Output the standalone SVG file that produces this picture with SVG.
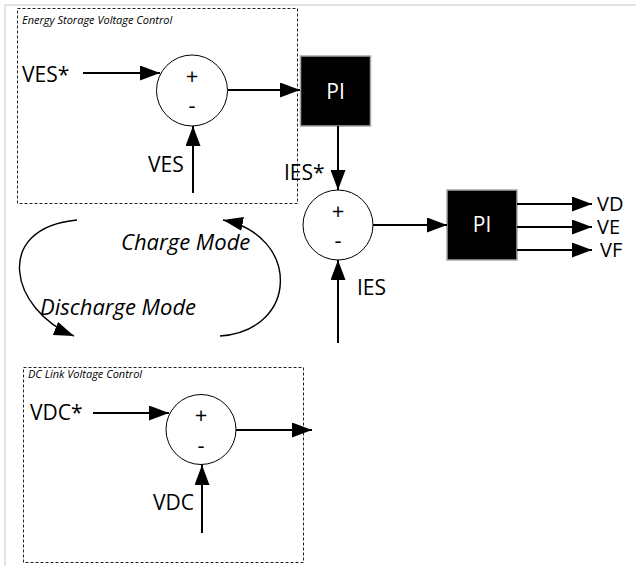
<svg xmlns="http://www.w3.org/2000/svg" width="636" height="566" viewBox="0 0 636 566">
<defs>
<marker id="ah" viewBox="0 0 20 15" refX="20" refY="7.5" markerWidth="20" markerHeight="15" markerUnits="userSpaceOnUse" orient="auto">
<path d="M0,0 L20,7.5 L0,15 Z" fill="#000"/>
</marker>
<marker id="ahc" viewBox="0 0 20 14" refX="20" refY="7" markerWidth="20" markerHeight="14" markerUnits="userSpaceOnUse" orient="auto">
<path d="M0,0 L20,7 L0,14 Z" fill="#000"/>
</marker>
<style>
.lbl{font-family:"Open Sans","Noto Sans","DejaVu Sans",sans-serif;font-size:21px;fill:#000}
.out{font-family:"Open Sans","Noto Sans","DejaVu Sans",sans-serif;font-size:20px;fill:#000}
.it{font-family:"Open Sans","Noto Sans","DejaVu Sans",sans-serif;font-style:italic;fill:#000}
.sign{font-family:"Open Sans","Noto Sans","DejaVu Sans",sans-serif;font-size:22px;fill:#000;text-anchor:middle}
.pi{font-family:"Open Sans","Noto Sans","DejaVu Sans",sans-serif;font-size:21px;fill:#fff;text-anchor:middle}
.box{fill:none;stroke:#222;stroke-width:1;stroke-dasharray:3 2}
.sum{fill:#fff;stroke:#000;stroke-width:1}
.blk{fill:#000;stroke:#a6a6a6;stroke-width:1.5}
.wire{fill:none;stroke:#000;stroke-width:2;marker-end:url(#ah)}
.curve{fill:none;stroke:#000;stroke-width:1.4;marker-end:url(#ahc)}
</style>
</defs>
<rect width="636" height="566" fill="#fff"/>
<path d="M5,566 V5 H636" fill="none" stroke="#e3e3e3" stroke-width="2"/>

<g id="es-group">
<rect class="box" x="17.5" y="8.5" width="280" height="195"/>
<text class="it" x="22" y="24" font-size="11">Energy Storage Voltage Control</text>
</g>
<g id="dc-group">
<rect class="box" x="23.5" y="367.5" width="280" height="195"/>
<text class="it" x="28" y="378" font-size="11">DC Link Voltage Control</text>
</g>

<g id="sum1">
<circle class="sum" cx="192" cy="90.5" r="35.5"/>
<text class="sign" x="192" y="84">+</text>
<text class="sign" x="192" y="113">-</text>
</g>
<g id="pi1">
<rect class="blk" x="300.5" y="56" width="70" height="70"/>
<text class="pi" x="335.5" y="98.5">PI</text>
</g>
<g id="sum2">
<circle class="sum" cx="338" cy="225" r="35"/>
<text class="sign" x="338" y="219">+</text>
<text class="sign" x="338" y="248">-</text>
</g>
<g id="pi2">
<rect class="blk" x="447" y="190" width="70" height="70"/>
<text class="pi" x="482" y="232">PI</text>
</g>
<g id="sum3">
<circle class="sum" cx="201" cy="429.5" r="35"/>
<text class="sign" x="201" y="423">+</text>
<text class="sign" x="201" y="453">-</text>
</g>

<g id="labels">
<text class="lbl" x="22" y="82">VES*</text>
<text class="lbl" x="148" y="172">VES</text>
<text class="lbl" x="284" y="180">IES*</text>
<text class="lbl" x="357" y="295">IES</text>
<text class="out" x="597" y="211">VD</text>
<text class="out" x="597" y="234">VE</text>
<text class="out" x="600" y="257">VF</text>
<text class="lbl" x="30" y="420">VDC*</text>
<text class="lbl" x="153" y="510">VDC</text>
<text class="it" x="121" y="250" font-size="22">Charge Mode</text>
<text class="it" x="40" y="315" font-size="22">Discharge Mode</text>
</g>

<g id="connectors">
<line class="wire" x1="83" y1="73" x2="160" y2="73"/>
<line class="wire" x1="228" y1="90" x2="300" y2="90"/>
<line class="wire" x1="193" y1="193" x2="193" y2="126"/>
<line class="wire" x1="338" y1="126" x2="338" y2="190"/>
<line class="wire" x1="373" y1="225" x2="447" y2="225"/>
<line class="wire" x1="338" y1="343" x2="338" y2="260"/>
<line class="wire" x1="517" y1="204" x2="592" y2="204"/>
<line class="wire" x1="517" y1="227" x2="592" y2="227"/>
<line class="wire" x1="517" y1="250" x2="592" y2="250"/>
<line class="wire" x1="93" y1="413" x2="169" y2="413"/>
<line class="wire" x1="236" y1="430" x2="312" y2="430"/>
<line class="wire" x1="202" y1="533" x2="202" y2="465"/>
<path class="curve" d="M77,220 C-8,228 10,310 74,336"/>
<path class="curve" d="M220,336 C300,330 300,235 223,220"/>
</g>
</svg>
